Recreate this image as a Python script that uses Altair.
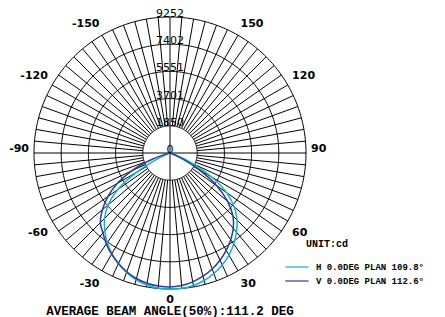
import math
import altair as alt
import pandas as pd

# ---------------- data ----------------
ring_values = [1850, 3701, 5551, 7402, 9252]
ring_label_values = [0, 1850, 3701, 5551, 7402, 9252]
ring_label_texts = ["0", "1850", "3701", "5551", "7402", "9252"]
angle_tick_values = [0, 30, 60, 90, 120, 150, -30, -60, -90, -120, -150]
spoke_step = 5

curve_angles = [0, 5, 10, 15, 20, 25, 30, 35, 40, 45, 50, 55, 60, 65, 70, 75, 80, 85, 90]
h_left = [9252, 9230, 9120, 8930, 8650, 8300, 7900, 7450, 6900, 6300, 5500, 4350, 2600, 800, 150, 0, 0, 0, 0]
h_right = [9252, 9240, 9150, 8980, 8720, 8400, 8020, 7560, 7030, 6450, 5700, 4700, 3300, 1700, 400, 0, 0, 0, 0]
v_left = [9120, 9090, 9000, 8840, 8600, 8300, 7950, 7550, 7100, 6700, 6000, 5150, 4150, 2900, 1400, 300, 0, 0, 0]
v_right = [9120, 9050, 8900, 8680, 8400, 8050, 7650, 7200, 6700, 6050, 5100, 3900, 2300, 800, 150, 0, 0, 0, 0]

series_names = ["H 0.0DEG PLAN 109.8\u00b0", "V 0.0DEG PLAN 112.6\u00b0"]
series_colors = ["#15b0cb", "#2b3d9c"]
unit_text = "UNIT:cd"
footer_text = "AVERAGE BEAM ANGLE(50%):111.2 DEG"

# ---------------- geometry ----------------
W, H = 429, 309
CX, CY = 162, 145
R_PX = 136
RMAX = ring_values[-1]
u = RMAX / R_PX
x_dom = [-CX * u, (W - CX) * u]
y_dom = [-(H - CY) * u, CY * u]
LAB_R = 141 * u


def pol(r, a):
    t = math.radians(a)
    return r * math.sin(t), -r * math.cos(t)


rings = []
for rv in ring_values:
    for i, a in enumerate(range(0, 361, 1)):
        x, y = pol(rv, a)
        rings.append({"ring": rv, "i": i, "x": x, "y": y})
rings = pd.DataFrame(rings)

spokes = []
for a in range(0, 360, spoke_step):
    r0 = 0 if a % 90 == 0 else ring_values[0]
    x1, y1 = pol(r0, a)
    x2, y2 = pol(RMAX, a)
    spokes.append({"x": x1, "y": y1, "x2": x2, "y2": y2})
spokes = pd.DataFrame(spokes)

curves = []
for name, left, right in [(series_names[0], h_left, h_right), (series_names[1], v_left, v_right)]:
    pts = [(-a, I) for a, I in zip(curve_angles, left)][::-1] + [(a, I) for a, I in zip(curve_angles, right)][1:]
    for i, (a, I) in enumerate(pts):
        x, y = pol(I, a)
        curves.append({"series": name, "i": i, "x": x, "y": y})
curves = pd.DataFrame(curves)

rlab = pd.DataFrame({"x": [0.0] * len(ring_label_values), "y": ring_label_values, "t": ring_label_texts})

alab = []
for a in angle_tick_values:
    x, y = pol(LAB_R, a)
    side = "c" if a == 0 else ("r" if a > 0 else "l")
    half = "lo" if abs(a) < 90 else ("mid" if abs(a) == 90 else "up")
    alab.append({"x": x, "y": y, "t": str(a), "side": side, "half": half})
alab = pd.DataFrame(alab)

foot = pd.DataFrame({"x": [0.0], "y": [-157.5 * u], "t": [footer_text]})
unit = pd.DataFrame({"t": [unit_text]})

xs = alt.Scale(domain=x_dom, nice=False, zero=False)
ys = alt.Scale(domain=y_dom, nice=False, zero=False)


def X(f):
    return alt.X(f, type="quantitative", scale=xs, axis=None)


def Y(f):
    return alt.Y(f, type="quantitative", scale=ys, axis=None)


ring_layer = alt.Chart(rings).mark_line(color="black", strokeWidth=1).encode(
    x=X("x"), y=Y("y"), detail="ring:N", order="i:Q"
)
spoke_layer = alt.Chart(spokes).mark_rule(color="black", strokeWidth=1).encode(
    x=X("x"), y=Y("y"), x2="x2", y2="y2"
)
curve_layer = alt.Chart(curves).mark_line(strokeWidth=1.5, interpolate="catmull-rom").encode(
    x=X("x"), y=Y("y"), order="i:Q",
    color=alt.Color(
        "series:N",
        scale=alt.Scale(domain=series_names, range=series_colors),
        legend=alt.Legend(
            orient="none", legendX=280, legendY=250, title=None,
            symbolType="M-1.45,0L1.45,0", symbolSize=256, symbolStrokeWidth=1.2,
            labelFont="Liberation Mono", labelFontWeight="bold", labelFontSize=9,
            labelColor="black", labelOffset=10, rowPadding=0, padding=0, labelLimit=300,
        ),
    ),
)
rlab_layer = alt.Chart(rlab).mark_text(
    font="DejaVu Sans", fontSize=11, color="black", baseline="alphabetic", align="center", dy=0
).encode(x=X("x"), y=Y("y"), text="t")


def angle_layer(side, half, align, baseline, dy):
    return alt.Chart(alab).transform_filter(
        (alt.datum.side == side) & (alt.datum.half == half)
    ).mark_text(
        font="DejaVu Sans", fontSize=11, fontWeight="bold", color="black",
        align=align, baseline=baseline, dy=dy
    ).encode(x=X("x"), y=Y("y"), text="t")


alab_layers = [
    angle_layer("c", "lo", "center", "top", 0),
    angle_layer("r", "lo", "left", "top", 3),
    angle_layer("l", "lo", "right", "top", 3),
    angle_layer("r", "mid", "left", "middle", -4),
    angle_layer("l", "mid", "right", "middle", -4),
    angle_layer("r", "up", "left", "bottom", -2),
    angle_layer("l", "up", "right", "bottom", -2),
]
foot_layer = alt.Chart(foot).mark_text(
    font="Liberation Mono", fontSize=12.5, fontWeight="bold", color="black", baseline="middle", align="center"
).encode(x=X("x"), y=Y("y"), text="t")
unit_layer = alt.Chart(unit).mark_text(
    font="Liberation Mono", fontSize=10, fontWeight="bold", color="black", baseline="middle", align="left"
).encode(x=alt.value(298), y=alt.value(235.5), text="t")

chart = alt.layer(
    ring_layer, spoke_layer, curve_layer, rlab_layer, *alab_layers, foot_layer, unit_layer
).properties(
    width=W, height=H, padding=0, autosize=alt.AutoSizeParams(type="none")
).configure_view(stroke=None)

chart.save("out.html", embed_options={"renderer": "svg", "actions": False})
